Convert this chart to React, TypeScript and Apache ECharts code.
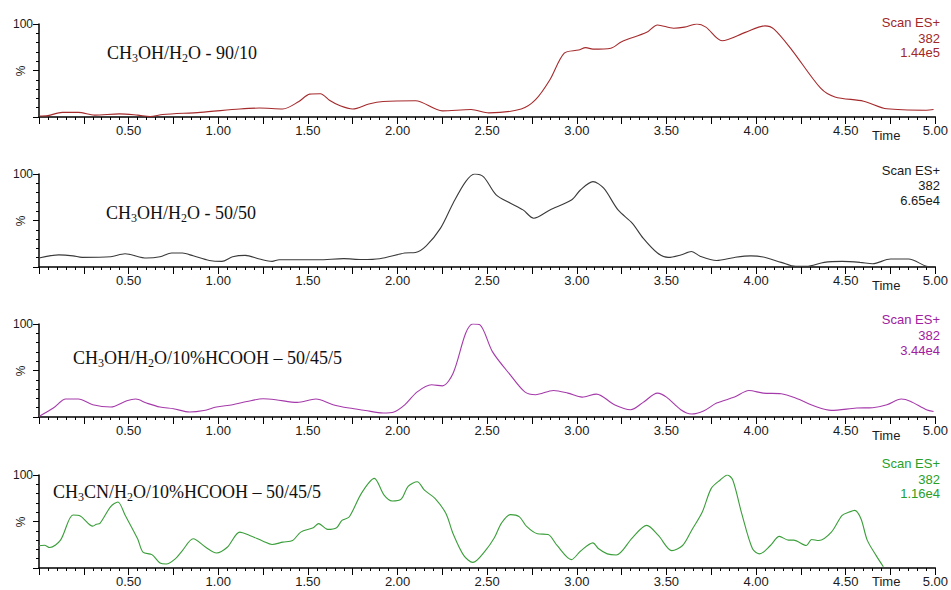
import React, { useEffect, useRef } from 'react';
import * as echarts from 'echarts';

// ---------- data ----------
const panelTitles = [
  'CH{s|3}OH/H{s|2}O - 90/10',
  'CH{s|3}OH/H{s|2}O - 50/50',
  'CH{s|3}OH/H{s|2}O/10%HCOOH \u2013 50/45/5',
  'CH{s|3}CN/H{s|2}O/10%HCOOH \u2013 50/45/5',
];
const scanLabel = 'Scan ES+';
const massLabel = '382';
const intensityLabels = ['1.44e5', '6.65e4', '3.44e4', '1.16e4'];
const xTickLabels = ['0.50', '1.00', '1.50', '2.00', '2.50', '3.00', '3.50', '4.00', '4.50', '5.00'];

const trace1: [number, number][] = [
  [0.0, 1], [0.05, 1.5], [0.13, 5], [0.22, 5], [0.31, 2], [0.45, 3.4], [0.55, 2], [0.62, 0.5], [0.69, 2.7],
  [0.9, 5], [1.12, 8.6], [1.23, 9.6], [1.36, 8.6], [1.45, 16.7], [1.51, 24.6], [1.57, 25], [1.62, 18],
  [1.68, 12], [1.75, 8.6], [1.84, 14], [1.92, 16.7], [2.1, 17.5], [2.25, 6.6], [2.41, 8], [2.51, 4.4],
  [2.69, 8.6], [2.77, 18.6], [2.85, 40], [2.93, 68.6], [3.01, 72], [3.05, 74.6], [3.09, 73], [3.19, 74],
  [3.25, 81], [3.39, 91], [3.45, 99], [3.54, 95.5], [3.6, 96.6], [3.67, 100], [3.72, 96.6], [3.81, 82],
  [3.94, 91], [4.05, 98], [4.1, 94.5], [4.2, 72], [4.36, 31], [4.44, 21.6], [4.6, 17], [4.73, 8.8],
  [4.95, 7.3], [4.99, 8],
];
const trace2: [number, number][] = [
  [0.0, 9.6], [0.11, 13], [0.19, 12], [0.24, 10.3], [0.4, 11], [0.48, 14.2], [0.6, 9.6], [0.675, 11],
  [0.74, 15], [0.8, 15], [0.86, 12], [0.95, 7], [1.02, 6], [1.08, 11], [1.15, 12.5], [1.23, 8.6], [1.3, 6],
  [1.34, 7.8], [1.56, 7.8], [1.7, 9], [1.8, 8], [1.9, 8.9], [2.04, 15], [2.1, 15.6], [2.16, 22.8],
  [2.24, 41.8], [2.31, 68.6], [2.38, 91.8], [2.43, 100], [2.48, 97], [2.55, 77.5], [2.63, 68.6],
  [2.7, 61.4], [2.76, 52.5], [2.85, 61.4], [2.97, 72], [3.02, 82.8], [3.09, 91.8], [3.15, 84.7],
  [3.23, 61.4], [3.31, 47], [3.37, 31], [3.45, 15], [3.51, 10.3], [3.58, 13], [3.64, 16.7], [3.69, 11.4],
  [3.78, 7], [3.88, 10.3], [3.97, 12], [4.04, 10.7], [4.14, 5], [4.22, 0.7], [4.28, 0.7], [4.38, 5],
  [4.48, 6], [4.58, 5], [4.65, 3.5], [4.75, 8.6], [4.85, 8.6], [4.95, 0.7], [4.99, 0],
];
const trace3: [number, number][] = [
  [0.0, 0.6], [0.08, 9.6], [0.15, 19.3], [0.22, 19.3], [0.3, 13.2], [0.4, 10.7], [0.49, 17.5], [0.54, 19.3],
  [0.6, 15], [0.675, 10.7], [0.75, 8.9], [0.84, 5.4], [0.92, 7], [0.99, 10.7], [1.08, 13.2], [1.16, 16.7],
  [1.25, 19.6], [1.32, 18.6], [1.44, 15.7], [1.545, 19.3], [1.64, 13.2], [1.73, 9.6], [1.82, 7], [1.92, 4.3],
  [1.98, 5.4], [2.04, 13], [2.11, 27], [2.19, 34.6], [2.25, 33.5], [2.31, 47], [2.38, 90], [2.42, 100],
  [2.46, 99], [2.53, 70], [2.63, 45], [2.71, 27], [2.77, 24], [2.87, 28.5], [2.95, 25.7], [3.03, 21.4],
  [3.11, 24.6], [3.21, 13.2], [3.3, 7.8], [3.37, 15.7], [3.45, 25.7], [3.5, 21.4], [3.58, 7.8], [3.64, 3.2],
  [3.71, 6.8], [3.78, 15], [3.88, 21.4], [3.96, 28.5], [4.04, 25.7], [4.14, 25], [4.22, 20.4], [4.34, 10.7],
  [4.42, 7.1], [4.56, 9.6], [4.65, 10], [4.73, 13.2], [4.81, 19.3], [4.86, 17], [4.95, 7.8], [4.99, 6],
];
const trace4: [number, number][] = [
  [0.0, 24], [0.03, 24.5], [0.06, 22], [0.12, 30], [0.19, 57], [0.23, 56], [0.3, 45], [0.32, 47], [0.34, 48],
  [0.4, 66], [0.44, 71], [0.48, 57], [0.55, 31.4], [0.58, 17], [0.63, 14.4], [0.675, 5.4], [0.71, 4.3],
  [0.76, 9.8], [0.8, 18.8], [0.86, 31.4], [0.93, 22.3], [0.99, 16.2], [1.05, 22.3], [1.12, 38.6],
  [1.175, 35], [1.25, 28.8], [1.3, 25.2], [1.36, 27.8], [1.415, 29.6], [1.46, 38.6], [1.53, 43.3],
  [1.56, 47.7], [1.61, 41.5], [1.66, 43.3], [1.69, 51.2], [1.73, 54.8], [1.8, 80.8], [1.87, 96.4],
  [1.925, 78.3], [1.97, 72], [2.02, 74], [2.06, 88], [2.11, 92.7], [2.15, 83.7], [2.21, 74.7], [2.27, 58.5],
  [2.31, 36.8], [2.37, 13.3], [2.42, 6], [2.49, 18.7], [2.54, 32.5], [2.58, 48.3], [2.63, 57.4], [2.68, 55],
  [2.72, 44.7], [2.78, 36.8], [2.84, 36], [2.89, 24.2], [2.97, 9], [3.02, 18], [3.09, 27], [3.12, 21],
  [3.17, 15.2], [3.22, 14], [3.31, 32.5], [3.39, 45.8], [3.455, 35], [3.53, 18.7], [3.59, 24.2], [3.64, 40.4],
  [3.7, 60.2], [3.75, 85.6], [3.8, 94.6], [3.84, 100], [3.87, 94.6], [3.92, 58.5], [3.98, 20.6], [4.02, 15.2],
  [4.08, 24.2], [4.13, 34], [4.18, 30], [4.21, 30], [4.28, 24.2], [4.31, 30.7], [4.35, 29.5], [4.42, 38.6],
  [4.48, 56.7], [4.52, 60.2], [4.55, 62], [4.585, 53], [4.62, 30], [4.67, 13.3], [4.71, 1.4],
];
const traces = [trace1, trace2, trace3, trace4];

// ---------- styles ----------
const lineColors = ['#a52a2c', '#3a3a3a', '#a53aaa', '#3a9e3a'];
const textColors = ['#a02828', '#1a1a1a', '#a020a0', '#28a028'];
const gridTops = [24, 174, 324, 475];
const titlePos = [
  [107, 53],
  [106, 213],
  [73, 358],
  [53, 492],
];
const infoY = [
  [22, 38, 52],
  [170, 185, 200],
  [319, 335, 350],
  [463, 479, 493],
];
const timeY = [135, 285, 435, 581];
const SANS = '"Liberation Sans", Arial, sans-serif';
const SERIF = '"Liberation Serif", "Times New Roman", serif';

export default function App() {
  const ref = useRef<HTMLDivElement>(null);

  useEffect(() => {
    if (!ref.current) return;
    const chart = echarts.init(ref.current, null, { renderer: 'svg' });

    const grids = gridTops.map((top) => ({ left: 39, top, width: 899, height: 93 }));
    const xAxes = gridTops.map((_, i) => ({
      type: 'value',
      gridIndex: i,
      min: 0,
      max: 5,
      interval: 0.25,
      splitLine: { show: false },
      axisLine: { show: true, onZero: false, lineStyle: { color: '#000', width: 1.5 } },
      axisTick: { show: true, length: 7, lineStyle: { color: '#000', width: 1 } },
      minorTick: { show: true, splitNumber: 5, length: 3, lineStyle: { color: '#000', width: 1 } },
      axisLabel: {
        show: true,
        margin: 7,
        fontSize: 13,
        fontFamily: SANS,
        color: '#1a1a1a',
        showMinLabel: true,
        showMaxLabel: true,
        formatter: (v: number) => {
          const s = v.toFixed(2);
          return xTickLabels.includes(s) ? s : '';
        },
      },
    }));
    const yAxes = gridTops.map((_, i) => ({
      type: 'value',
      gridIndex: i,
      min: 0,
      max: 100,
      interval: 50,
      splitLine: { show: false },
      axisLine: { show: true, onZero: false, lineStyle: { color: '#000', width: 1.5 } },
      axisTick: { show: true, length: 6, lineStyle: { color: '#000', width: 1 } },
      minorTick: { show: true, splitNumber: 5, length: 3, lineStyle: { color: '#000', width: 1 } },
      axisLabel: {
        show: true,
        margin: 6,
        fontSize: 12,
        fontFamily: SANS,
        color: '#1a1a1a',
        formatter: (v: number) => (v === 100 ? '100' : ''),
      },
    }));
    const series = traces.map((data, i) => ({
      type: 'line',
      xAxisIndex: i,
      yAxisIndex: i,
      data,
      showSymbol: false,
      smooth: 0.3,
      lineStyle: { color: lineColors[i], width: 1.1 },
      clip: true,
    }));

    const graphics: any[] = [];
    gridTops.forEach((top, i) => {
      graphics.push({
        type: 'text',
        x: titlePos[i][0],
        y: titlePos[i][1],
        style: {
          text: panelTitles[i],
          fontSize: 18,
          fontFamily: SERIF,
          fill: '#111',
          verticalAlign: 'middle',
          align: 'left',
          rich: {
            s: { fontSize: 12, fontFamily: SERIF, fill: '#111', verticalAlign: 'bottom', padding: [0, 0, -2, 0] },
          },
        },
      });
      const lines = [scanLabel, massLabel, intensityLabels[i]];
      lines.forEach((t, k) => {
        graphics.push({
          type: 'text',
          x: 940,
          y: infoY[i][k],
          style: {
            text: t,
            fontSize: 13,
            fontFamily: SANS,
            fill: textColors[i],
            align: 'right',
            verticalAlign: 'middle',
          },
        });
      });
      graphics.push({
        type: 'text',
        x: 21,
        y: top + 47,
        rotation: Math.PI / 2,
        style: { text: '%', fontSize: 12, fontFamily: SANS, fill: '#1a1a1a', align: 'center', verticalAlign: 'middle' },
      });
      graphics.push({
        type: 'text',
        x: 872,
        y: timeY[i],
        style: { text: 'Time', fontSize: 13, fontFamily: SANS, fill: '#1a1a1a', align: 'left', verticalAlign: 'middle' },
      });
    });

    chart.setOption({
      animation: false,
      backgroundColor: '#ffffff',
      grid: grids,
      xAxis: xAxes,
      yAxis: yAxes,
      series,
      graphic: graphics,
    });

    return () => chart.dispose();
  }, []);

  return (
    <div
      ref={ref}
      style={{ position: 'fixed', left: 0, top: 0, width: 951, height: 590, background: '#fff' }}
    />
  );
}
